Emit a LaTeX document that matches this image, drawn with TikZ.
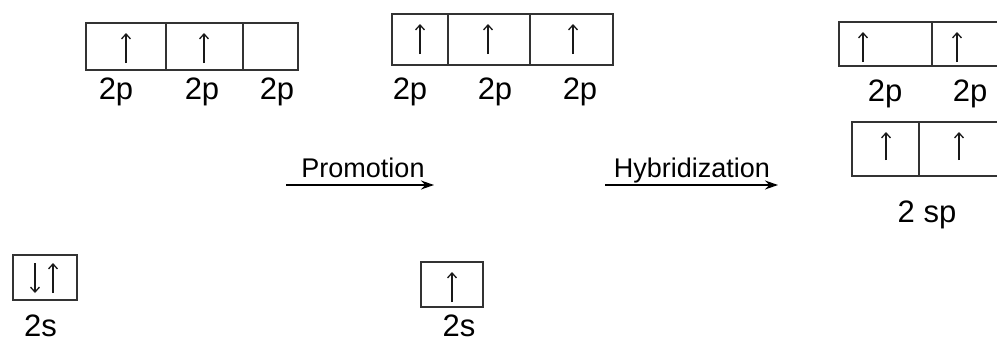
\documentclass[tikz,border=0pt]{standalone}
\usepackage{fontspec}
\setmainfont{Liberation Sans}
\usetikzlibrary{arrows.meta}
\tikzset{
  cell/.style={draw=black!80, line width=1.2pt, inner sep=0pt, outer sep=0pt},
  spin/.style={line width=1.3pt, draw=black!90, -{Straight Barb[length=5pt,width=9pt,line width=1.3pt]}},
  lab/.style={inner sep=0pt, anchor=base, font=\fontsize{31}{33}\selectfont},
  rlab/.style={inner sep=0pt, anchor=base, font=\fontsize{27}{29}\selectfont},
  react/.style={line width=1.4pt, -{Stealth[length=13pt,width=9pt]}},
}
\begin{document}
\begin{tikzpicture}[x=1pt,y=-1pt]
\useasboundingbox (0,0) rectangle (997,343);
\clip (0,0) rectangle (997,343);
% ---- ground-state 2p
\node[cell, minimum width=80pt, minimum height=47pt] (a1) at (126,46.5) {};
\node[cell, minimum width=77pt, minimum height=47pt] (a2) at (204.5,46.5) {};
\node[cell, minimum width=55pt, minimum height=47pt] (a3) at (270.5,46.5) {};
\draw[spin] (126,63) -- (126,33);
\draw[spin] (204,63) -- (204,33);
\node[lab] (la1) at (116,99) {2p};
\node[lab] (la2) at (202,99) {2p};
\node[lab] (la3) at (277,99) {2p};
% ---- ground-state 2s
\node[cell, minimum width=64pt, minimum height=45pt] (s1) at (45,277.5) {};
\draw[spin] (35,263) -- (35,293);
\draw[spin] (53,293) -- (53,263);
\node[lab] (ls1) at (40.5,336.5) {2s};
% ---- promotion arrow
\coordinate (p1) at (286,185);
\coordinate (p2) at (434,185);
\draw[react] (p1) -- (p2);
\node[rlab] (lp) at (363,177) {Promotion};
% ---- excited 2p
\node[cell, minimum width=56pt, minimum height=51pt] (b1) at (420,39.5) {};
\node[cell, minimum width=82pt, minimum height=51pt] (b2) at (489,39.5) {};
\node[cell, minimum width=83pt, minimum height=51pt] (b3) at (571.5,39.5) {};
\draw[spin] (420,54) -- (420,24);
\draw[spin] (488,54) -- (488,24);
\draw[spin] (573,54) -- (573,24);
\node[lab] (lb1) at (410,99) {2p};
\node[lab] (lb2) at (495,99) {2p};
\node[lab] (lb3) at (580,99) {2p};
% ---- excited 2s
\node[cell, minimum width=62pt, minimum height=45pt] (s2) at (452,284.5) {};
\draw[spin] (452,302) -- (452,272);
\node[lab] (ls2) at (459,336.5) {2s};
% ---- hybridization arrow
\coordinate (h1) at (605,185);
\coordinate (h2) at (778,185);
\draw[react] (h1) -- (h2);
\node[rlab] (lh) at (692,177) {Hybridization};
% ---- hybrid state 2p
\node[cell, minimum width=93pt, minimum height=44pt] (c1) at (885.5,44) {};
\node[cell, minimum width=93pt, minimum height=44pt] (c2) at (978.5,44) {};
\draw[spin] (863,62) -- (863,32);
\draw[spin] (957,62) -- (957,32);
\node[lab] (lc1) at (885,101) {2p};
\node[lab] (lc2) at (970,101) {2p};
% ---- 2 sp
\node[cell, minimum width=67pt, minimum height=54pt] (d1) at (885.5,149) {};
\node[cell, minimum width=90pt, minimum height=54pt] (d2) at (964,149) {};
\draw[spin] (886,160) -- (886,132);
\draw[spin] (959,160) -- (959,132);
\node[lab] (ld) at (927,222) {2 sp};
\end{tikzpicture}
\end{document}
